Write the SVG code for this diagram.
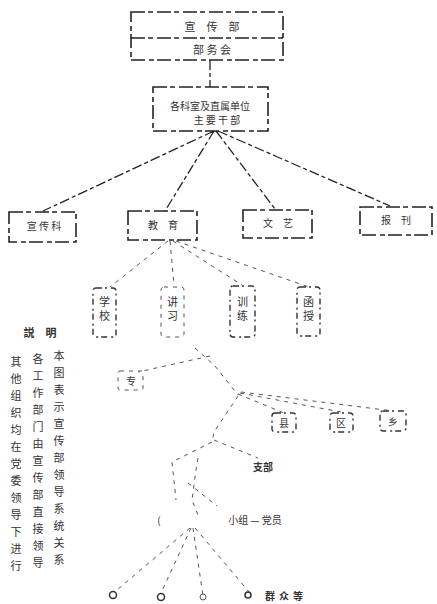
<svg xmlns="http://www.w3.org/2000/svg" width="437" height="604" viewBox="0 0 437 604">
<style>
.bx{fill:none;stroke:#222;stroke-width:1.6;stroke-dasharray:14 3 5 4}
.vb{fill:none;stroke:#333;stroke-width:1.4;stroke-dasharray:6 3 2 4}
.ln{fill:none;stroke:#222;stroke-width:1.3;stroke-dasharray:10 3 4 3}
.fl{fill:none;stroke:#555;stroke-width:1;stroke-dasharray:4 5}
.t{font-family:"Noto Sans CJK SC","Noto Sans CJK TC",sans-serif;font-size:11px;fill:#333;text-anchor:middle}
.s{font-size:10px}
.v{font-family:"Noto Sans CJK SC","Noto Sans CJK TC",sans-serif;font-size:11px;fill:#333;writing-mode:vertical-rl;letter-spacing:3px}
.lg{letter-spacing:6px}
</style>
<rect width="437" height="604" fill="#fff"/>
<g id="connectors">
<path class="ln" d="M210 60V87"/>
<path class="ln" d="M214 131L43 211M214 131L165 211M216 131L275 209M218 131L390 206"/>
<path class="fl" d="M168 241L110 287M170 241L174 285M173 241L242 285M176 241L309 287"/>
<path class="fl" d="M195 348L215 366L238 395M210 356L138 372"/>
<path class="fl" d="M238 394L284 413M240 393L341 412M241 392L393 411"/>
<path class="fl" d="M238 396L214 432L212 442M214 440L258 458"/>
<path class="fl" d="M212 442L172 462L176 500M198 458L196 470L192 500L198 515M188 483L217 506"/>
<path class="fl" d="M190 528L117 590M191 528L161 593M193 528L203 596M195 528L250 593"/>
</g>
<g id="n-top">
<rect class="bx" x="131" y="12" width="152" height="48"/>
<path class="bx" d="M131 38H283"/>
<text class="t" x="212" y="31">宣　传　部</text>
<text class="t" x="212" y="54">部 务 会</text>
</g>
<g id="n-2">
<rect class="bx" x="153" y="87" width="115" height="44"/>
<text class="t s" x="210" y="110">各科室及直属单位</text>
<text class="t s" x="217" y="124">主 要 干 部</text>
</g>
<g id="n-a"><rect class="bx" x="9" y="212" width="67" height="30"/><text class="t s" x="44" y="230">宣 传 科</text></g>
<g id="n-b"><rect class="bx" x="128" y="211" width="69" height="29"/><text class="t s" x="163" y="229">教　育</text></g>
<g id="n-c"><rect class="bx" x="243" y="210" width="69" height="28"/><text class="t s" x="278" y="227">文　艺</text></g>
<g id="n-d"><rect class="bx" x="360" y="207" width="72" height="28"/><text class="t s" x="396" y="224">报　刊</text></g>
<g id="n-v1"><rect class="vb" x="93" y="288" width="23" height="49" rx="3"/><text class="v" x="104.5" y="296">学校</text></g>
<g id="n-v2"><rect class="fl" x="161" y="287" width="23" height="50" rx="3"/><text class="v" x="172.5" y="296">讲习</text></g>
<g id="n-v3"><rect class="vb" x="230" y="286" width="25" height="51" rx="3"/><text class="v" x="242.5" y="296">训练</text></g>
<g id="n-v4"><rect class="vb" x="297" y="287" width="23" height="49" rx="3"/><text class="v" x="308.5" y="296">函授</text></g>
<g id="n-small"><rect class="fl" x="118" y="371" width="25" height="19" rx="2"/><text class="t s" x="131" y="385">专</text></g>
<g id="n-r1"><rect class="vb" x="272" y="413" width="24" height="19" rx="3"/><text class="t s" x="284" y="427">县</text></g>
<g id="n-r2"><rect class="vb" x="330" y="413" width="23" height="19" rx="3"/><text class="t s" x="341" y="427">区</text></g>
<g id="n-r3"><rect class="vb" x="380" y="411" width="26" height="20" rx="3"/><text class="t s" x="393" y="426">乡</text></g>
<g id="n-zb"><text class="t s" x="263" y="471" style="font-weight:bold">支部</text></g>
<g id="n-zu"><text class="t s" x="159" y="524">(</text><text class="t s" x="255" y="524">小组 — 党员</text></g>
<g id="n-bottom">
<circle cx="113" cy="595" r="3.5" fill="none" stroke="#333" stroke-width="1.5"/>
<circle cx="161" cy="597" r="3.5" fill="none" stroke="#333" stroke-width="1.5"/>
<circle cx="203" cy="597" r="3" fill="none" stroke="#555" stroke-width="1"/>
<circle cx="248" cy="595" r="3" fill="none" stroke="#333" stroke-width="1.5"/>
<text class="t s" x="286" y="600" style="font-weight:bold;letter-spacing:4px">群众等</text>
</g>
<g id="legend">
<text class="t" x="40" y="337" style="font-weight:bold">説　明</text>
<text class="v lg" x="59" y="350">本图表示宣传部领导系统关系</text>
<text class="v lg" x="38" y="353">各工作部门由宣传部直接领导</text>
<text class="v lg" x="16" y="356">其他组织均在党委领导下进行</text>
</g>
</svg>
